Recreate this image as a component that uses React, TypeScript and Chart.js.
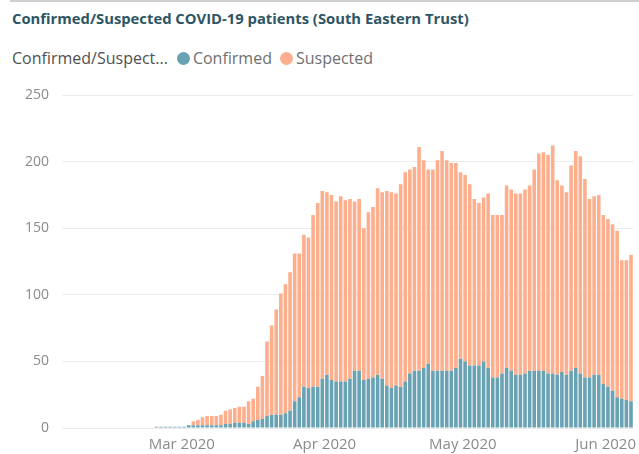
import React, { useEffect, useRef } from "react";
import { Chart, registerables } from "chart.js";

Chart.register(...registerables);

// Daily categories start on 4 Feb 2020 and run to 6 Jun 2020
const startYear = 2020;
const startMonth = 1; // February (0-based)
const startDay = 4;
const dayCount = 124;

const monthNames = ["Jan", "Feb", "Mar", "Apr", "May", "Jun", "Jul", "Aug", "Sep", "Oct", "Nov", "Dec"];

const confirmed = [
  0, 0, 0, 0, 0, 0, 0, 0, 0, 0, 0, 0, 0, 0, 0, 0, 0, 0, 0, 0,
  1, 1, 1, 1, 1, 1, 1, 2, 2, 2, 2, 2, 2, 2, 2, 3, 3, 4, 4, 4,
  3, 5, 6, 7, 9, 10, 10, 10, 11, 13, 20, 23, 31, 30, 31, 31, 37, 40, 36, 35,
  35, 35, 37, 43, 43, 36, 37, 38, 40, 37, 32, 30, 32, 31, 35, 41, 43, 43, 45, 48,
  43, 43, 43, 43, 43, 45, 52, 50, 47, 47, 47, 50, 45, 38, 38, 41, 45, 43, 40, 40,
  41, 43, 43, 43, 43, 41, 41, 40, 42, 40, 43, 45, 41, 38, 38, 40, 40, 33, 31, 28,
  23, 22, 21, 20,
];

const suspected = [
  0, 0, 0, 0, 0, 0, 0, 0, 0, 0, 0, 0, 0, 0, 0, 0, 0, 0, 0, 0,
  0, 0, 0, 0, 0, 0, 0, 0, 3, 4, 6, 7, 7, 7, 8, 10, 11, 11, 12, 12,
  17, 17, 25, 32, 56, 67, 79, 91, 97, 104, 111, 108, 114, 113, 129, 138, 141, 137, 139, 135,
  139, 136, 135, 127, 129, 114, 125, 128, 140, 140, 146, 147, 144, 152, 157, 153, 153, 168, 156, 146,
  151, 158, 165, 158, 156, 154, 140, 140, 136, 125, 122, 123, 131, 122, 122, 119, 137, 136, 136, 136,
  138, 139, 151, 163, 164, 164, 171, 146, 140, 137, 154, 163, 163, 149, 134, 134, 135, 127, 126, 125,
  125, 104, 105, 110,
];

const yTicks = [0, 50, 100, 150, 200, 250];

const seriesNames = ["Confirmed", "Suspected"];
const seriesColors = ["#68a2b3", "#fdae8d"];
const legendTitle = "Confirmed/Suspect...";
const chartTitle = "Confirmed/Suspected COVID-19 patients (South Eastern Trust)";

function buildDates(): { y: number; m: number; d: number }[] {
  const out: { y: number; m: number; d: number }[] = [];
  for (let i = 0; i < dayCount; i++) {
    const dt = new Date(Date.UTC(startYear, startMonth, startDay + i));
    out.push({ y: dt.getUTCFullYear(), m: dt.getUTCMonth(), d: dt.getUTCDate() });
  }
  return out;
}

const FONT = "'Segoe UI', 'Open Sans', 'DejaVu Sans', sans-serif";

export default function App() {
  const ref = useRef<HTMLCanvasElement | null>(null);

  useEffect(() => {
    if (!ref.current) return;
    const dates = buildDates();
    const labels = dates.map((x) => `${x.y}-${x.m + 1}-${x.d}`);
    const chart = new Chart(ref.current, {
      type: "bar",
      data: {
        labels,
        datasets: [
          {
            label: seriesNames[0],
            data: confirmed,
            backgroundColor: seriesColors[0],
            barPercentage: 0.78,
            categoryPercentage: 1.0,
          },
          {
            label: seriesNames[1],
            data: suspected,
            backgroundColor: seriesColors[1],
            barPercentage: 0.78,
            categoryPercentage: 1.0,
          },
        ],
      },
      options: {
        animation: false,
        responsive: false,
        devicePixelRatio: 1,
        layout: { padding: { top: 95, left: 0, right: 4, bottom: 0 } },
        plugins: {
          legend: { display: false },
          title: { display: false },
          tooltip: { enabled: false },
        },
        scales: {
          x: {
            stacked: true,
            grid: { display: false, drawTicks: false },
            border: { display: false },
            ticks: {
              autoSkip: false,
              maxRotation: 0,
              minRotation: 0,
              padding: 8,
              labelOffset: -2.3,
              color: "#8a8a8a",
              font: { family: FONT, size: 15 },
              callback: (_v: any, i: number) => {
                const x = dates[i];
                return x && x.d === 1 ? `${monthNames[x.m]} ${x.y}` : "";
              },
            },
            afterFit: (s: any) => {
              s.height = 26;
            },
          },
          y: {
            stacked: true,
            min: 0,
            max: 250,
            grid: { color: "#ececec", lineWidth: 1, drawTicks: false },
            border: { display: false },
            afterBuildTicks: (s: any) => {
              s.ticks = yTicks.map((v) => ({ value: v }));
            },
            ticks: {
              padding: 13,
              color: "#8a8a8a",
              font: { family: FONT, size: 14 },
            },
            afterFit: (s: any) => {
              s.width = 62;
            },
          },
        },
      },
    });
    return () => chart.destroy();
  }, []);

  return (
    <div
      style={{
        position: "fixed",
        left: 0,
        top: 0,
        width: 639,
        height: 454,
        background: "#fff",
        overflow: "hidden",
        fontFamily: FONT,
      }}
    >
      <div style={{ position: "absolute", left: 10, right: 0, top: 0, height: 2, background: "#cfcfcf" }} />
      <div
        style={{
          position: "absolute",
          left: 12,
          top: 8,
          fontSize: 14.8,
          fontWeight: 700,
          color: "#2d5563",
          whiteSpace: "nowrap",
        }}
      >
        {chartTitle}
      </div>
      <div
        style={{
          position: "absolute",
          left: 12,
          top: 47,
          fontSize: 16,
          display: "flex",
          alignItems: "center",
          whiteSpace: "nowrap",
        }}
      >
        <span style={{ color: "#505050" }}>{legendTitle}</span>
        {seriesNames.map((n, i) => (
          <span key={n} style={{ display: "inline-flex", alignItems: "center", marginLeft: i === 0 ? 9 : 8 }}>
            <span
              style={{
                display: "inline-block",
                width: 13,
                height: 13,
                borderRadius: 7,
                background: seriesColors[i],
                marginRight: 3,
              }}
            />
            <span style={{ color: "#707070" }}>{n}</span>
          </span>
        ))}
      </div>
      <canvas ref={ref} width={639} height={454} style={{ position: "absolute", left: 0, top: 0 }} />
    </div>
  );
}
